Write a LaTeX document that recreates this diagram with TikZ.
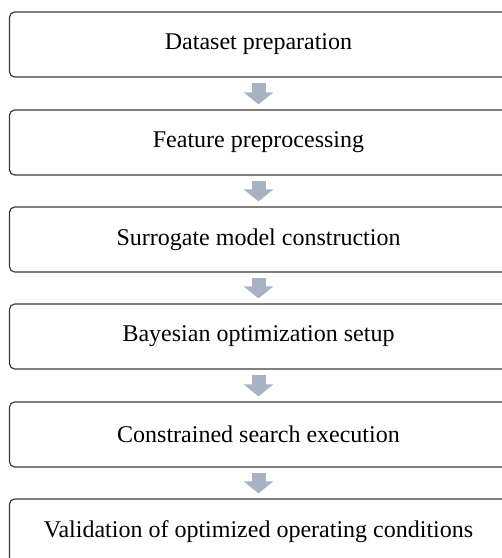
\documentclass[tikz,border=0pt]{standalone}
\usepackage{fontspec}
\setmainfont{Liberation Serif}
\usetikzlibrary{arrows.meta}
\definecolor{edge}{HTML}{3A3A3A}
\definecolor{flow}{HTML}{A7B3C3}

\begin{document}
\begin{tikzpicture}[x=.5pt,y=-.5pt,
  stage/.style={draw=edge,line width=.6pt,rounded corners=2.6pt,
    minimum width=249pt,minimum height=32.5pt,inner sep=0pt,
    font=\fontsize{12}{14}\selectfont},
  flowarrow/.style={flow,line width=7pt,
    -{Triangle[width=14.5pt,length=6pt]}}]
  \useasboundingbox (0,0) rectangle (502,558);

  \node[stage] (data)  at (258.5,44.5)  {Dataset preparation};
  \node[stage] (feat)  at (258.5,142.5) {Feature preprocessing};
  \node[stage] (surr)  at (258.5,239.5) {Surrogate model construction};
  \node[stage] (bayes) at (258.5,336.5) {Bayesian optimization setup};
  \node[stage] (search) at (258.5,434.5) {Constrained search execution};
  \node[stage] (valid) at (258.5,531.5)
    {Validation of optimized operating conditions};

  % block arrows between the stages
  \draw[flowarrow] ([yshift=-2.5pt]data.south) -- ([yshift=2.5pt]feat.north);
  \draw[flowarrow] ([yshift=-2.5pt]feat.south) -- ([yshift=2.5pt]surr.north);
  \draw[flowarrow] ([yshift=-2.5pt]surr.south) -- ([yshift=2.5pt]bayes.north);
  \draw[flowarrow] ([yshift=-2.5pt]bayes.south) -- ([yshift=2.5pt]search.north);
  \draw[flowarrow] ([yshift=-2.5pt]search.south) -- ([yshift=2.5pt]valid.north);
\end{tikzpicture}
\end{document}
